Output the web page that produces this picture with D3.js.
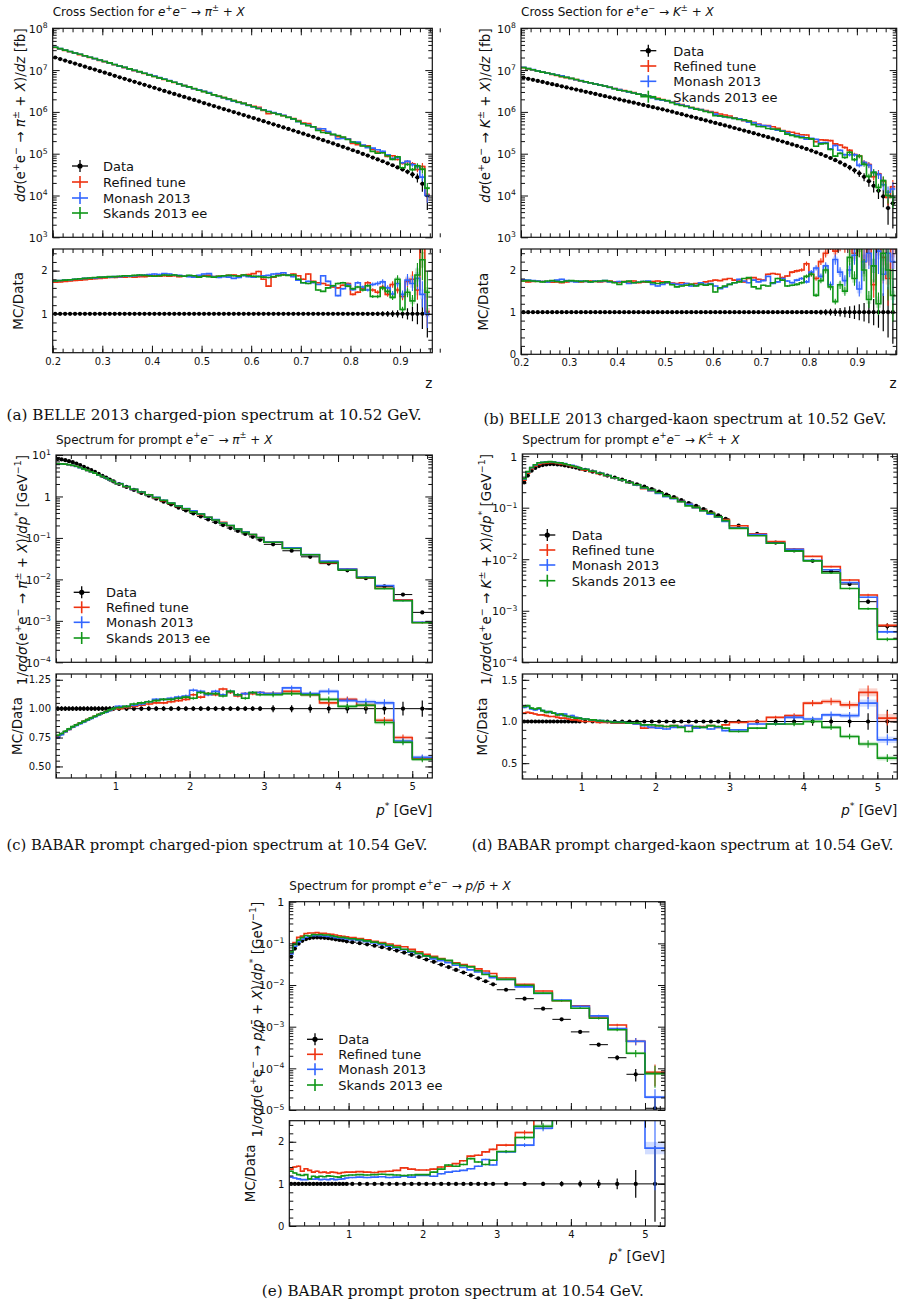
<!DOCTYPE html>
<html>
<head>
<meta charset="utf-8">
<script src="https://cdn.jsdelivr.net/npm/d3@7"></script>
<style>
body { margin: 0; background: #fff; }
svg text { font-family: "DejaVu Sans", sans-serif; fill: #111; }
svg text.cap { font-family: "DejaVu Serif", serif; }
</style>
</head>
<body>
<svg id="fig" width="907" height="1306"></svg>
<script>
// ---- bins ----
var zEdgesPi = d3.range(77).map(function(i) { return +(0.20 + 0.01 * i).toFixed(2); });
var zEdgesK = d3.range(79).map(function(i) { return +(0.20 + 0.01 * i).toFixed(2); });
var pEdges = [0.2,0.25,0.3,0.35,0.4,0.45,0.5,0.55,0.6,0.65,0.7,0.75,0.8,0.85,0.9,0.95,1.0,
  1.1,1.2,1.3,1.4,1.5,1.6,1.7,1.8,1.9,2.0,2.1,2.2,2.3,2.4,2.5,2.6,2.7,2.8,2.9,3.0,
  3.25,3.5,3.75,4.0,4.25,4.5,4.75,5.0,5.27];

// ---- (a) BELLE pions, dsigma/dz [fb] ----
var bellePiData = [2.00e7,1.84e7,1.69e7,1.56e7,1.43e7,1.32e7,1.21e7,1.11e7,1.03e7,9.4e6,
  8.7e6,8.0e6,7.3e6,6.7e6,6.2e6,5.7e6,5.25e6,4.83e6,4.44e6,4.09e6,
  3.76e6,3.46e6,3.18e6,2.93e6,2.69e6,2.48e6,2.28e6,2.10e6,1.93e6,1.78e6,
  1.63e6,1.50e6,1.38e6,1.27e6,1.17e6,1.08e6,9.9e5,9.1e5,8.4e5,7.7e5,
  7.1e5,6.5e5,6.0e5,5.5e5,5.05e5,4.64e5,4.26e5,3.91e5,3.59e5,3.29e5,
  3.02e5,2.76e5,2.53e5,2.31e5,2.11e5,1.93e5,1.76e5,1.60e5,1.46e5,1.33e5,
  1.21e5,1.10e5,9.9e4,9.0e4,8.1e4,7.3e4,6.6e4,5.9e4,5.3e4,4.7e4,
  4.2e4,3.7e4,3.2e4,2.7e4,1.9e4,1.0e4];
var bellePiErr = [0.01,0.01,0.01,0.01,0.01,0.01,0.01,0.01,0.01,0.01,
  0.01,0.01,0.01,0.01,0.01,0.01,0.01,0.01,0.01,0.01,
  0.01,0.01,0.01,0.01,0.01,0.01,0.01,0.01,0.01,0.01,
  0.01,0.01,0.01,0.01,0.01,0.01,0.01,0.01,0.01,0.01,
  0.01,0.01,0.01,0.01,0.01,0.01,0.01,0.01,0.01,0.01,
  0.012,0.013,0.014,0.015,0.016,0.018,0.02,0.022,0.024,0.026,
  0.028,0.03,0.034,0.038,0.043,0.05,0.058,0.066,0.075,0.085,
  0.10,0.13,0.17,0.24,0.35,0.55];
// MC / Data ratios
var bellePiRefined = [1.73,1.74,1.75,1.76,1.77,1.78,1.79,1.80,1.81,1.82,
  1.83,1.84,1.84,1.85,1.85,1.86,1.85,1.86,1.86,1.87,
  1.88,1.87,1.88,1.87,1.88,1.86,1.87,1.88,1.86,1.87,
  1.88,1.89,1.86,1.87,1.88,1.89,1.90,1.88,1.90,1.91,
  1.93,1.98,1.80,1.64,1.85,1.90,1.91,1.90,1.92,1.88,
  1.80,1.92,1.75,1.72,1.70,1.66,1.62,1.60,1.66,1.70,
  1.45,1.50,1.58,1.72,1.55,1.50,1.62,1.45,1.68,1.55,
  1.40,1.75,1.80,1.55,2.60,1.05];
var bellePiMonash = [1.76,1.77,1.78,1.79,1.80,1.81,1.82,1.83,1.83,1.84,
  1.85,1.85,1.86,1.86,1.87,1.87,1.88,1.89,1.90,1.91,
  1.92,1.91,1.93,1.92,1.90,1.89,1.87,1.86,1.85,1.89,
  1.92,1.93,1.86,1.84,1.86,1.85,1.82,1.84,1.88,1.86,
  1.85,1.87,1.88,1.89,1.92,1.93,1.95,1.90,1.86,1.78,
  1.72,1.75,1.72,1.68,1.88,1.75,1.64,1.42,1.58,1.68,
  1.56,1.72,1.62,1.55,1.68,1.70,1.74,1.60,1.46,1.70,
  1.45,1.78,1.70,1.82,1.45,1.00];
var bellePiSkands = [1.76,1.77,1.78,1.79,1.80,1.81,1.82,1.83,1.84,1.85,
  1.85,1.86,1.86,1.87,1.88,1.88,1.89,1.90,1.89,1.88,
  1.87,1.88,1.90,1.89,1.90,1.88,1.87,1.89,1.88,1.85,
  1.87,1.86,1.85,1.87,1.88,1.89,1.88,1.87,1.90,1.88,
  1.87,1.86,1.85,1.84,1.86,1.88,1.90,1.89,1.90,1.80,
  1.72,1.70,1.74,1.55,1.52,1.60,1.65,1.70,1.72,1.64,
  1.58,1.62,1.55,1.65,1.40,1.40,1.60,1.52,1.38,1.80,
  1.10,1.50,1.30,1.90,2.25,1.50];

// ---- (b) BELLE kaons ----
var belleKData = [6.6e6,6.2e6,5.85e6,5.5e6,5.2e6,4.9e6,4.6e6,4.35e6,4.1e6,3.85e6,
  3.63e6,3.42e6,3.22e6,3.03e6,2.86e6,2.69e6,2.53e6,2.38e6,2.24e6,2.11e6,
  1.99e6,1.87e6,1.76e6,1.66e6,1.56e6,1.47e6,1.38e6,1.30e6,1.22e6,1.15e6,
  1.08e6,1.01e6,9.4e5,8.8e5,8.2e5,7.7e5,7.2e5,6.7e5,6.25e5,5.85e5,
  5.45e5,5.08e5,4.74e5,4.42e5,4.12e5,3.84e5,3.58e5,3.33e5,3.10e5,2.88e5,
  2.68e5,2.48e5,2.29e5,2.12e5,1.96e5,1.81e5,1.67e5,1.54e5,1.42e5,1.30e5,
  1.19e5,1.08e5,9.8e4,8.8e4,7.9e4,7.0e4,6.2e4,5.4e4,4.7e4,4.0e4,
  3.4e4,2.8e4,2.2e4,1.7e4,1.3e4,9.5e3,5.0e3,6.5e3];
var belleKErr = [0.01,0.01,0.01,0.01,0.01,0.01,0.01,0.01,0.01,0.01,
  0.01,0.01,0.01,0.01,0.01,0.01,0.01,0.01,0.01,0.01,
  0.01,0.01,0.01,0.01,0.01,0.01,0.01,0.01,0.01,0.01,
  0.01,0.01,0.01,0.01,0.01,0.01,0.01,0.01,0.01,0.01,
  0.01,0.01,0.01,0.01,0.01,0.01,0.01,0.01,0.01,0.01,
  0.012,0.014,0.016,0.018,0.02,0.023,0.026,0.03,0.034,0.04,
  0.045,0.05,0.06,0.07,0.08,0.09,0.10,0.12,0.14,0.16,
  0.19,0.22,0.26,0.31,0.37,0.45,0.60,0.75];
var belleKRefined = [1.74,1.72,1.73,1.74,1.73,1.72,1.71,1.72,1.70,1.72,
  1.74,1.73,1.72,1.73,1.74,1.73,1.72,1.73,1.74,1.72,
  1.71,1.73,1.72,1.74,1.70,1.71,1.72,1.73,1.74,1.72,
  1.70,1.69,1.68,1.70,1.68,1.66,1.68,1.70,1.72,1.74,
  1.76,1.75,1.78,1.80,1.76,1.74,1.72,1.80,1.82,1.78,
  1.76,1.90,1.92,1.90,1.82,1.86,1.95,1.98,2.00,2.15,
  1.90,1.80,2.20,2.40,2.60,2.45,2.60,2.60,2.55,2.40,
  2.60,2.20,2.50,1.65,2.55,2.30,1.80,2.50];
var belleKMonash = [1.77,1.76,1.75,1.74,1.73,1.72,1.74,1.76,1.78,1.75,
  1.73,1.72,1.74,1.73,1.72,1.74,1.73,1.75,1.72,1.71,
  1.73,1.72,1.68,1.70,1.71,1.73,1.74,1.66,1.62,1.66,
  1.70,1.68,1.66,1.65,1.68,1.62,1.64,1.70,1.66,1.68,
  1.62,1.56,1.60,1.66,1.70,1.78,1.74,1.70,1.76,1.72,
  1.75,1.85,1.68,1.72,1.80,1.74,1.70,1.76,1.80,1.72,
  1.95,2.05,1.85,2.10,1.65,2.25,1.95,1.75,2.00,2.35,
  1.55,2.20,2.40,2.10,2.45,1.90,2.40,2.20];
var belleKSkands = [1.74,1.75,1.74,1.73,1.72,1.74,1.75,1.73,1.72,1.74,
  1.75,1.74,1.73,1.74,1.72,1.73,1.74,1.75,1.73,1.70,
  1.66,1.72,1.74,1.70,1.71,1.73,1.72,1.70,1.68,1.70,
  1.72,1.65,1.60,1.62,1.64,1.66,1.62,1.66,1.64,1.66,
  1.48,1.58,1.62,1.66,1.70,1.72,1.80,1.82,1.60,1.56,
  1.64,1.62,1.70,1.80,1.76,1.62,1.64,1.66,1.70,1.85,
  1.90,1.40,1.75,2.00,1.60,1.25,1.65,1.50,2.30,1.80,
  2.60,2.00,1.30,2.10,1.20,2.40,2.00,1.40];

// ---- (c) BABAR prompt pions, 1/sigma dsigma/dp* ----
var babarPiData = [8.0,7.8,7.5,7.1,6.7,6.2,5.7,5.2,4.7,4.3,3.9,3.5,3.15,2.85,2.55,2.3,
  2.0,1.70,1.44,1.22,1.04,0.88,0.75,0.64,0.54,0.46,0.39,0.33,0.28,0.24,0.204,0.173,0.147,0.125,0.106,0.090,
  0.070,0.049,0.035,0.024,0.0165,0.0107,0.0068,0.0043,0.0016];
var babarPiErr = [0.02,0.02,0.02,0.02,0.02,0.02,0.02,0.02,0.02,0.02,0.02,0.02,0.02,0.02,0.02,0.02,
  0.02,0.02,0.02,0.02,0.02,0.02,0.02,0.02,0.02,0.02,0.02,0.02,0.02,0.02,0.02,0.02,0.02,0.02,0.02,0.02,
  0.03,0.03,0.035,0.04,0.04,0.045,0.05,0.06,0.07];
var babarPiRefined = [0.76,0.78,0.80,0.82,0.84,0.86,0.875,0.89,0.905,0.92,0.935,0.95,0.96,0.975,0.985,0.995,
  1.00,1.01,1.02,1.03,1.04,1.05,1.05,1.06,1.07,1.08,1.12,1.10,1.13,1.12,1.17,1.14,1.11,1.13,1.13,1.14,
  1.13,1.15,1.12,1.05,1.08,1.03,0.90,0.75,0.57];
var babarPiMonash = [0.75,0.775,0.80,0.82,0.84,0.855,0.87,0.885,0.90,0.915,0.93,0.945,0.96,0.97,0.985,1.00,
  1.02,1.02,1.03,1.04,1.06,1.08,1.08,1.09,1.10,1.11,1.16,1.15,1.12,1.15,1.12,1.15,1.12,1.13,1.14,1.14,
  1.13,1.18,1.13,1.15,1.07,1.06,1.05,0.72,0.58];
var babarPiSkands = [0.77,0.785,0.805,0.825,0.845,0.86,0.875,0.89,0.905,0.92,0.935,0.95,0.96,0.975,0.99,1.00,
  1.01,1.02,1.04,1.05,1.06,1.07,1.08,1.08,1.09,1.10,1.09,1.14,1.13,1.13,1.11,1.15,1.12,1.09,1.14,1.12,
  1.12,1.13,1.12,1.08,1.02,1.03,0.88,0.71,0.56];

// ---- (d) BABAR prompt kaons ----
var babarKData = [0.31,0.42,0.52,0.59,0.64,0.67,0.69,0.70,0.70,0.69,0.68,0.66,0.64,0.62,0.60,0.57,
  0.54,0.50,0.46,0.42,0.385,0.35,0.315,0.285,0.255,0.23,0.205,0.18,0.16,0.14,0.123,0.108,0.094,0.082,0.071,0.061,
  0.045,0.031,0.021,0.0148,0.0093,0.0058,0.0033,0.0015,0.0005];
var babarKErr = [0.015,0.015,0.015,0.015,0.015,0.015,0.015,0.015,0.015,0.015,0.015,0.015,0.015,0.015,0.015,0.015,
  0.015,0.015,0.015,0.015,0.015,0.015,0.015,0.015,0.015,0.015,0.015,0.015,0.015,0.015,0.015,0.015,0.015,0.015,0.015,0.015,
  0.02,0.025,0.03,0.045,0.05,0.06,0.07,0.10,0.14];
var babarKRefined = [1.10,1.11,1.10,1.09,1.08,1.08,1.07,1.06,1.06,1.05,1.04,1.04,1.03,1.02,1.02,1.01,
  1.00,1.00,0.99,0.99,0.98,0.98,0.98,0.97,0.92,0.93,0.95,0.94,0.95,0.94,0.95,0.93,0.94,0.95,0.93,0.96,
  0.99,1.00,1.05,1.07,1.22,1.24,1.20,1.35,1.04];
var babarKMonash = [1.17,1.18,1.15,1.14,1.15,1.13,1.12,1.11,1.10,1.09,1.08,1.09,1.06,1.07,1.05,1.04,
  1.03,1.02,1.01,1.00,0.99,0.99,0.98,0.97,0.95,0.93,0.92,0.91,0.93,0.94,0.95,0.92,0.93,0.91,0.93,0.89,
  0.90,0.97,0.97,1.05,1.03,1.08,1.07,1.22,0.78];
var babarKSkands = [1.18,1.19,1.16,1.15,1.16,1.13,1.11,1.12,1.10,1.08,1.09,1.07,1.06,1.05,1.04,1.04,
  1.03,1.02,1.01,1.00,0.99,0.99,0.98,0.98,0.96,0.96,0.95,0.94,0.95,0.93,0.88,0.94,0.93,0.95,0.94,0.92,
  0.88,0.92,0.97,0.97,1.00,0.93,0.82,0.73,0.56];

// ---- (e) BABAR prompt protons ----
var babarPData = [0.048,0.075,0.098,0.115,0.127,0.134,0.138,0.139,0.138,0.136,0.133,0.129,0.125,0.121,0.117,0.112,
  0.107,0.101,0.095,0.088,0.081,0.074,0.067,0.060,0.053,0.047,0.041,0.036,0.031,0.027,0.023,0.020,0.017,0.0145,0.0123,0.0104,
  0.0077,0.0047,0.0027,0.0015,0.00075,0.00037,0.00018,7.2e-5,1.1e-5];
var babarPErr = [0.02,0.02,0.02,0.02,0.02,0.02,0.02,0.02,0.02,0.02,0.02,0.02,0.02,0.02,0.02,0.02,
  0.02,0.02,0.02,0.02,0.02,0.02,0.02,0.02,0.02,0.02,0.02,0.02,0.02,0.02,0.02,0.02,0.02,0.02,0.02,0.02,
  0.03,0.04,0.05,0.06,0.08,0.10,0.13,0.33,0.90];
var babarPRefined = [1.35,1.40,1.42,1.30,1.36,1.32,1.28,1.30,1.27,1.28,1.26,1.28,1.27,1.25,1.27,1.28,
  1.28,1.29,1.28,1.27,1.29,1.30,1.32,1.38,1.35,1.33,1.33,1.35,1.40,1.42,1.48,1.55,1.66,1.68,1.76,1.82,
  1.92,2.22,2.67,2.80,4.20,4.60,6.10,6.20,7.30];
var babarPMonash = [1.16,1.14,1.12,1.10,1.10,1.12,1.11,1.12,1.10,1.11,1.10,1.12,1.10,1.11,1.12,1.14,
  1.15,1.16,1.15,1.16,1.17,1.15,1.16,1.18,1.16,1.20,1.20,1.18,1.24,1.28,1.30,1.32,1.36,1.42,1.58,1.45,
  1.76,1.92,2.32,2.90,4.10,4.90,5.00,6.20,1.85];
var babarPSkands = [1.30,1.26,1.22,1.20,1.22,1.12,1.18,1.16,1.18,1.17,1.19,1.18,1.17,1.16,1.19,1.20,
  1.21,1.22,1.21,1.22,1.23,1.22,1.21,1.20,1.21,1.22,1.22,1.28,1.35,1.45,1.42,1.46,1.60,1.52,1.46,1.56,
  1.77,2.10,2.37,2.80,3.70,4.30,4.70,3.20,6.80];

var legendNames = ["Data", "Refined tune", "Monash 2013", "Skands 2013 ee"];
var mcColors = ["#EE3311", "#3366FF", "#109618"];

var svg = d3.select("#fig");
var defs = svg.append("defs");

// text with superscripts / italics: parts = [[text, flags]]
function mathText(sel, parts, size) {
  var up = false;
  parts.forEach(function(p) {
    var f = p[1] || "";
    var ts = sel.append("tspan").text(p[0]);
    if (f.indexOf("i") >= 0) ts.attr("font-style", "italic");
    if (f.indexOf("s") >= 0) {
      ts.attr("font-size", size * 0.7);
      if (!up) { ts.attr("dy", -size * 0.42); up = true; }
    } else if (up) { ts.attr("dy", size * 0.42); up = false; }
  });
  return sel;
}

function logLabel(v) {
  var e = Math.round(Math.log10(v));
  if (e === 0) return [["1"]];
  return [["10"], [e < 0 ? "\u2212" + (-e) : String(e), "s"]];
}

function procParts(prod, eItalic) {
  var ef = eItalic ? "i" : "";
  return [["e", ef], ["+", "s"], ["e", ef], ["\u2212", "s"], [" \u2192 "]].concat(prod);
}
var prodPi = [["\u03c0", "i"], ["\u00b1", "s"], [" + "], ["X", "i"]];
var prodK = [["K", "i"], ["\u00b1", "s"], [" + "], ["X", "i"]];
var prodP = [["p/p\u0304", "i"], [" + "], ["X", "i"]];

function drawPanel(P) {
  var g = svg.append("g");
  var E = P.edges, n = P.data.length;
  var x = d3.scaleLinear().domain(P.xDom).range([P.left, P.right]);
  var y = d3.scaleLog().domain(P.yDom).range([P.mainBot, P.mainTop]);
  var yr = d3.scaleLinear().domain(P.rDom).range([P.ratBot, P.ratTop]);

  defs.append("clipPath").attr("id", "cm" + P.id).append("rect")
    .attr("x", P.left).attr("y", P.mainTop).attr("width", P.right - P.left).attr("height", P.mainBot - P.mainTop);
  defs.append("clipPath").attr("id", "cr" + P.id).append("rect")
    .attr("x", P.left).attr("y", P.ratTop).attr("width", P.right - P.left).attr("height", P.ratBot - P.ratTop);

  var gm = g.append("g").attr("clip-path", "url(#cm" + P.id + ")");
  var gr = g.append("g").attr("clip-path", "url(#cr" + P.id + ")");
  var bins = d3.range(n);
  var lo = function(v) { return Math.max(v, 1e-12); };
  var mid = function(i) { return x((E[i] + E[i + 1]) / 2); };

  // data, main
  gm.append("g").selectAll("line").data(bins).enter().append("line")
    .attr("x1", function(i) { return x(E[i]); }).attr("x2", function(i) { return x(E[i + 1]); })
    .attr("y1", function(i) { return y(P.data[i]); }).attr("y2", function(i) { return y(P.data[i]); })
    .attr("stroke", "#000").attr("stroke-width", 1);
  gm.append("g").selectAll("line").data(bins).enter().append("line")
    .attr("x1", mid).attr("x2", mid)
    .attr("y1", function(i) { return y(lo(P.data[i] * (1 - P.err[i]))); })
    .attr("y2", function(i) { return y(P.data[i] * (1 + P.err[i])); })
    .attr("stroke", "#000").attr("stroke-width", 1.2);
  gm.append("g").selectAll("circle").data(bins).enter().append("circle")
    .attr("cx", mid).attr("cy", function(i) { return y(P.data[i]); })
    .attr("r", 2.1).attr("fill", "#000");

  // data, ratio
  gr.append("line").attr("x1", x(E[0])).attr("x2", x(E[n])).attr("y1", yr(1)).attr("y2", yr(1))
    .attr("stroke", "#000").attr("stroke-width", 1);
  gr.append("g").selectAll("line").data(bins).enter().append("line")
    .attr("x1", mid).attr("x2", mid)
    .attr("y1", function(i) { return yr(1 - P.err[i]); }).attr("y2", function(i) { return yr(1 + P.err[i]); })
    .attr("stroke", "#000").attr("stroke-width", 1.2);
  gr.append("g").selectAll("circle").data(bins).enter().append("circle")
    .attr("cx", mid).attr("cy", yr(1))
    .attr("r", 2.1).attr("fill", "#000");

  // MC
  P.mc.forEach(function(r, k) {
    var col = mcColors[k];
    var band = function(i) { return Math.min(0.08, Math.max(0.006, 0.35 * P.err[i])); };
    var bar = function(i) { return Math.max(0.008, 0.6 * P.err[i]); };
    [[gm, function(i) { return P.data[i] * r[i]; }, y], [gr, function(i) { return r[i]; }, yr]].forEach(function(s) {
      var G = s[0], val = s[1], sc = s[2];
      G.append("g").selectAll("rect").data(bins).enter().append("rect")
        .attr("x", function(i) { return x(E[i]); })
        .attr("width", function(i) { return x(E[i + 1]) - x(E[i]); })
        .attr("y", function(i) { return sc(val(i) * (1 + band(i))); })
        .attr("height", function(i) { return Math.abs(sc(lo(val(i) * (1 - band(i)))) - sc(val(i) * (1 + band(i)))); })
        .attr("fill", col).attr("fill-opacity", 0.22);
      var pts = bins.map(function(i) { return [E[i], val(i)]; });
      pts.push([E[n], val(n - 1)]);
      G.append("path").datum(pts)
        .attr("d", d3.line().x(function(d) { return x(d[0]); }).y(function(d) { return sc(d[1]); }).curve(d3.curveStepAfter))
        .attr("fill", "none").attr("stroke", col).attr("stroke-width", 1.6);
      G.append("g").selectAll("line").data(bins).enter().append("line")
        .attr("x1", mid).attr("x2", mid)
        .attr("y1", function(i) { return sc(lo(val(i) * (1 - bar(i)))); })
        .attr("y2", function(i) { return sc(val(i) * (1 + bar(i))); })
        .attr("stroke", col).attr("stroke-width", 1.1);
    });
  });

  // ticks
  var ax = g.append("g").attr("font-size", 10.5);
  function xTicks(yPos, top, labels) {
    var mk = function() { return top ? d3.axisTop(x) : d3.axisBottom(x); };
    ax.append("g").attr("transform", "translate(0," + yPos + ")")
      .call(mk().tickValues(P.xMinor).tickSize(-4).tickFormat(""))
      .call(function(s) { s.select(".domain").remove(); });
    ax.append("g").attr("transform", "translate(0," + yPos + ")")
      .call(mk().tickValues(P.xMajor).tickSize(-7).tickPadding(5).tickFormat(labels ? P.xFmt : ""))
      .call(function(s) { s.select(".domain").remove(); });
  }
  xTicks(P.mainBot, false, false);
  xTicks(P.mainTop, true, false);
  xTicks(P.ratBot, false, true);
  xTicks(P.ratTop, true, false);

  var e0 = Math.floor(Math.log10(P.yDom[0])), e1 = Math.ceil(Math.log10(P.yDom[1]));
  var decades = [], minors = [];
  for (var e = e0; e <= e1; e++) {
    var dv = Math.pow(10, e);
    if (dv >= P.yDom[0] * 0.999 && dv <= P.yDom[1] * 1.001) decades.push(dv);
    for (var m = 2; m <= 9; m++) {
      var mv = m * dv;
      if (mv > P.yDom[0] && mv < P.yDom[1]) minors.push(mv);
    }
  }
  [[d3.axisLeft, P.left], [d3.axisRight, P.right]].forEach(function(a, j) {
    ax.append("g").attr("transform", "translate(" + a[1] + ",0)")
      .call(a[0](y).tickValues(minors).tickSize(-4).tickFormat(""))
      .call(function(s) { s.select(".domain").remove(); });
    var gy = ax.append("g").attr("transform", "translate(" + a[1] + ",0)")
      .call(a[0](y).tickValues(decades).tickSize(-7).tickFormat(""))
      .call(function(s) { s.select(".domain").remove(); });
    if (j === 0) {
      gy.selectAll(".tick").each(function(d) {
        var t = d3.select(this).append("text").attr("x", -5).attr("dy", "0.36em")
          .attr("text-anchor", "end").attr("font-size", 11);
        mathText(t, logLabel(d), 11);
      });
    }
    ax.append("g").attr("transform", "translate(" + a[1] + ",0)")
      .call(a[0](yr).tickValues(P.rMinor).tickSize(-4).tickFormat(""))
      .call(function(s) { s.select(".domain").remove(); });
    ax.append("g").attr("transform", "translate(" + a[1] + ",0)")
      .call(a[0](yr).tickValues(P.rMajor).tickSize(-7).tickPadding(5).tickFormat(j === 0 ? P.rFmt : ""))
      .call(function(s) { s.select(".domain").remove(); });
  });
  ax.selectAll(".tick line").attr("stroke", "#111").attr("stroke-width", 1);

  // frames
  [[P.mainTop, P.mainBot], [P.ratTop, P.ratBot]].forEach(function(f) {
    g.append("rect").attr("x", P.left).attr("y", f[0]).attr("width", P.right - P.left).attr("height", f[1] - f[0])
      .attr("fill", "none").attr("stroke", "#111").attr("stroke-width", 1.2);
  });

  // texts
  mathText(g.append("text").attr("x", P.left).attr("y", P.titleY).attr("font-size", 12), P.title, 12);
  mathText(g.append("text").attr("transform", "translate(" + P.ylabX + "," + P.mainTop + ") rotate(-90)")
    .attr("text-anchor", "end").attr("font-size", 13.5), P.ylabel, 13.5);
  g.append("text").attr("transform", "translate(" + P.rlabX + "," + (P.ratTop + P.ratBot) / 2 + ") rotate(-90)")
    .attr("text-anchor", "middle").attr("font-size", 13.5).text("MC/Data");
  mathText(g.append("text").attr("x", P.right).attr("y", P.xlabY).attr("text-anchor", "end").attr("font-size", 13.5),
    P.xlabel, 13.5);

  // legend
  var L = P.legend;
  legendNames.forEach(function(name, k) {
    var yy = L.ys[k];
    var col = k === 0 ? "#000" : mcColors[k - 1];
    g.append("line").attr("x1", L.mx - 8).attr("x2", L.mx + 8).attr("y1", yy).attr("y2", yy)
      .attr("stroke", col).attr("stroke-width", k === 0 ? 1.3 : 1.6);
    g.append("line").attr("x1", L.mx).attr("x2", L.mx).attr("y1", yy - 6).attr("y2", yy + 6)
      .attr("stroke", col).attr("stroke-width", k === 0 ? 1.3 : 1.6);
    if (k === 0) g.append("circle").attr("cx", L.mx).attr("cy", yy).attr("r", 2.6).attr("fill", "#000");
    g.append("text").attr("x", L.tx).attr("y", yy + 4.8).attr("font-size", 13).text(name);
  });

  g.append("text").attr("class", "cap").attr("x", P.capX).attr("y", P.capY).attr("text-anchor", "middle")
    .attr("font-size", 14.2).attr("textLength", P.capW).attr("lengthAdjust", "spacingAndGlyphs").text(P.caption);
}

var belleXMajor = [0.2, 0.3, 0.4, 0.5, 0.6, 0.7, 0.8, 0.9];
var belleXMinor = d3.range(0.20, 0.985, 0.02);
var babarXMajor = [1, 2, 3, 4, 5];
var babarXMinor = d3.range(0.2, 5.27, 0.2);
var zLabel = [["z"]];
var pLabel = [["p", "i"], ["*", "s"], [" [GeV]"]];
var fmt1 = d3.format(".1f");
var pYlabelTail = [[")/"], ["dp", "i"], ["*", "s"], [" [GeV"], ["\u22121", "s"], ["]"]];

var panels = [
  { id: "a", edges: zEdgesPi, data: bellePiData, err: bellePiErr, mc: [bellePiRefined, bellePiMonash, bellePiSkands],
    left: 52.7, right: 432.3, mainTop: 28.3, mainBot: 237.3, ratTop: 249, ratBot: 352.7,
    xDom: [0.2, 0.965], yDom: [1e3, 1e8], rDom: [0.1, 2.5],
    xMajor: belleXMajor, xMinor: belleXMinor, xFmt: fmt1,
    rMajor: [1, 2], rMinor: d3.range(0.2, 2.5, 0.2), rFmt: d3.format("d"),
    title: [["Cross Section for "]].concat(procParts(prodPi, true)), titleY: 16,
    ylabel: [["d\u03c3", "i"], ["("]].concat(procParts(prodPi, false), [[")/"], ["dz", "i"], [" [fb]"]]),
    ylabX: 25, rlabX: 23, xlabel: zLabel, xlabY: 388,
    legend: { mx: 80, tx: 103, ys: [166, 182, 198, 213] },
    caption: "(a) BELLE 2013 charged-pion spectrum at 10.52 GeV.", capX: 214, capY: 420, capW: 415 },
  { id: "b", edges: zEdgesK, data: belleKData, err: belleKErr, mc: [belleKRefined, belleKMonash, belleKSkands],
    left: 521, right: 896.7, mainTop: 28.3, mainBot: 237.3, ratTop: 249, ratBot: 354.3,
    xDom: [0.2, 0.983], yDom: [1e3, 1e8], rDom: [0, 2.5],
    xMajor: belleXMajor, xMinor: belleXMinor, xFmt: fmt1,
    rMajor: [0, 1, 2], rMinor: d3.range(0.2, 2.5, 0.2), rFmt: d3.format("d"),
    title: [["Cross Section for "]].concat(procParts(prodK, true)), titleY: 16,
    ylabel: [["d\u03c3", "i"], ["("]].concat(procParts(prodK, false), [[")/"], ["dz", "i"], [" [fb]"]]),
    ylabX: 489.5, rlabX: 488, xlabel: zLabel, xlabY: 388,
    legend: { mx: 648.3, tx: 673.3, ys: [50.7, 66, 81.3, 96.7] },
    caption: "(b) BELLE 2013 charged-kaon spectrum at 10.52 GeV.", capX: 685, capY: 424, capW: 403 },
  { id: "c", edges: pEdges, data: babarPiData, err: babarPiErr, mc: [babarPiRefined, babarPiMonash, babarPiSkands],
    left: 56, right: 432.3, mainTop: 455, mainBot: 662.3, ratTop: 674, ratBot: 778,
    xDom: [0.2, 5.27], yDom: [1e-4, 10], rDom: [0.4, 1.3],
    xMajor: babarXMajor, xMinor: babarXMinor, xFmt: d3.format("d"),
    rMajor: [0.5, 0.75, 1.0, 1.25], rMinor: d3.range(0.45, 1.3, 0.05), rFmt: d3.format(".2f"),
    title: [["Spectrum for prompt "]].concat(procParts(prodPi, true)), titleY: 443.5,
    ylabel: [["1/"], ["\u03c3d\u03c3", "i"], ["("]].concat(procParts(prodPi, false), pYlabelTail),
    ylabX: 26.5, rlabX: 21.5, xlabel: pLabel, xlabY: 815,
    legend: { mx: 81.7, tx: 106, ys: [592.3, 607.3, 622.3, 638] },
    caption: "(c) BABAR prompt charged-pion spectrum at 10.54 GeV.", capX: 217, capY: 850, capW: 421 },
  { id: "d", edges: pEdges, data: babarKData, err: babarKErr, mc: [babarKRefined, babarKMonash, babarKSkands],
    left: 522.3, right: 897.3, mainTop: 454, mainBot: 662.3, ratTop: 674, ratBot: 779,
    xDom: [0.2, 5.27], yDom: [1e-4, 1.1], rDom: [0.31, 1.57],
    xMajor: babarXMajor, xMinor: babarXMinor, xFmt: d3.format("d"),
    rMajor: [0.5, 1.0, 1.5], rMinor: d3.range(0.4, 1.57, 0.1), rFmt: d3.format(".1f"),
    title: [["Spectrum for prompt "]].concat(procParts(prodK, true)), titleY: 443.5,
    ylabel: [["1/"], ["\u03c3d\u03c3", "i"], ["("]].concat(procParts(prodK, false), pYlabelTail),
    ylabX: 491, rlabX: 486.5, xlabel: pLabel, xlabY: 815,
    legend: { mx: 547.3, tx: 571.7, ys: [535, 550, 565, 580.7] },
    caption: "(d) BABAR prompt charged-kaon spectrum at 10.54 GeV.", capX: 682.5, capY: 850, capW: 421.7 },
  { id: "e", edges: pEdges, data: babarPData, err: babarPErr, mc: [babarPRefined, babarPMonash, babarPSkands],
    left: 289.3, right: 665, mainTop: 901.7, mainBot: 1110, ratTop: 1120.7, ratBot: 1226,
    xDom: [0.2, 5.27], yDom: [1e-5, 1], rDom: [0, 2.5],
    xMajor: babarXMajor, xMinor: babarXMinor, xFmt: d3.format("d"),
    rMajor: [0, 1, 2], rMinor: d3.range(0.2, 2.5, 0.2), rFmt: d3.format("d"),
    title: [["Spectrum for prompt "]].concat(procParts(prodP, true)), titleY: 890,
    ylabel: [["1/"], ["\u03c3d\u03c3", "i"], ["("]].concat(procParts(prodP, false), pYlabelTail),
    ylabX: 262, rlabX: 255, xlabel: pLabel, xlabY: 1261,
    legend: { mx: 315, tx: 338.3, ys: [1039.3, 1054.3, 1069.3, 1085] },
    caption: "(e) BABAR prompt proton spectrum at 10.54 GeV.", capX: 452.8, capY: 1296, capW: 382 }
];

panels.forEach(drawPanel);
</script>
</body>
</html>
